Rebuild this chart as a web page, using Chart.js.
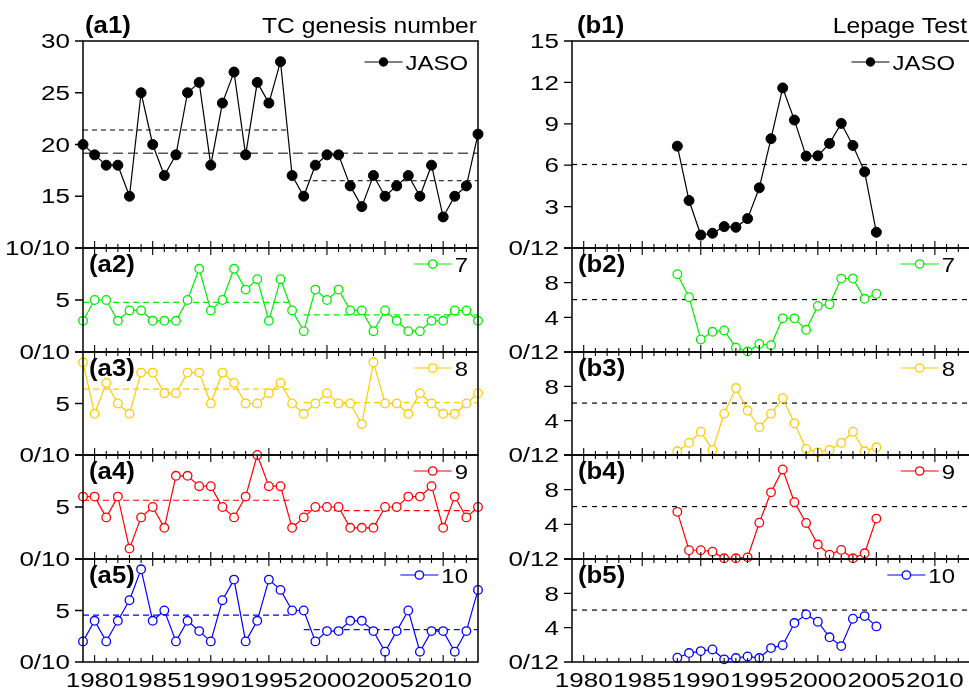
<!DOCTYPE html>
<html>
<head>
<meta charset="utf-8">
<script src="https://cdn.jsdelivr.net/npm/chart.js@4.4.0/dist/chart.umd.min.js"></script>
<style>
  html, body { margin: 0; padding: 0; background: #fff; overflow: hidden; width: 969px; height: 691px; }
  #wrap { position: relative; width: 969px; height: 691px; overflow: hidden; }
  #wrap canvas { position: absolute; }
</style>
</head>
<body>
<div id="wrap"></div>
<script>
// ============ data ============
const tcYears = [1979, 1980, 1981, 1982, 1983, 1984, 1985, 1986, 1987, 1988, 1989, 1990, 1991, 1992, 1993, 1994, 1995, 1996,
                 1997, 1998, 1999, 2000, 2001, 2002, 2003, 2004, 2005, 2006, 2007, 2008, 2009, 2010, 2011, 2012, 2013];
const tcJASO = [20, 19, 18, 18, 15, 25, 20, 17, 19, 25, 26, 18, 24, 27, 19, 26, 24, 28, 17, 15, 18, 19, 19, 16, 14, 17, 15, 16, 17, 15, 18, 13, 15, 16, 21];
const tcJul  = [3, 5, 5, 3, 4, 4, 3, 3, 3, 5, 8, 4, 5, 8, 6, 7, 3, 7, 4, 2, 6, 5, 6, 4, 4, 2, 4, 3, 2, 2, 3, 3, 4, 4, 3];
const tcAug  = [9, 4, 7, 5, 4, 8, 8, 6, 6, 8, 8, 5, 8, 7, 5, 5, 6, 7, 5, 4, 5, 6, 5, 5, 3, 9, 5, 5, 4, 6, 5, 4, 4, 5, 6];
const tcSep  = [6, 6, 4, 6, 1, 4, 5, 3, 8, 8, 7, 7, 5, 4, 6, 10, 7, 7, 3, 4, 5, 5, 5, 3, 3, 3, 5, 5, 6, 6, 7, 3, 6, 4, 5];
const tcOct  = [2, 4, 2, 4, 6, 9, 4, 5, 2, 4, 3, 2, 6, 8, 2, 4, 8, 7, 5, 5, 2, 3, 3, 4, 4, 3, 1, 3, 5, 1, 3, 3, 1, 3, 7];

// means: whole period (a1 only), before / after the shift
const tcMeanAll = 19.15;
const tcMeanEarly = [21.4, 4.78, 6.4, 5.65, 4.55];
const tcMeanLate  = [16.5, 3.57, 5.08, 4.65, 3.15];
const earlySpan = [1979, 1996.8];
const lateSpan  = [1998, 2013];

const lpYears = [1988, 1989, 1990, 1991, 1992, 1993, 1994, 1995, 1996, 1997, 1998, 1999, 2000, 2001, 2002, 2003, 2004, 2005];
const lpJASO = [7.38, 3.44, 0.94, 1.07, 1.55, 1.50, 2.13, 4.36, 7.92, 11.6, 9.27, 6.66, 6.68, 7.58, 9.03, 7.43, 5.52, 1.14];
const lpJul  = [8.97, 6.33, 1.44, 2.33, 2.49, 0.50, 0.05, 0.93, 0.78, 3.88, 3.88, 2.56, 5.32, 5.51, 8.47, 8.47, 6.14, 6.72];
const lpAug  = [0.43, 1.41, 2.71, 0.59, 4.82, 7.80, 5.18, 3.22, 4.82, 6.63, 3.69, 0.71, 0.31, 0.59, 1.41, 2.71, 0.43, 0.90];
const lpSep  = [5.44, 1.01, 1.01, 0.85, 0.08, 0.08, 0.19, 4.19, 7.69, 10.33, 6.56, 4.16, 1.67, 0.50, 1.05, 0.08, 0.66, 4.66];
const lpOct  = [0.50, 1.04, 1.27, 1.46, 0.31, 0.46, 0.65, 0.46, 1.62, 1.96, 4.54, 5.54, 4.69, 2.88, 1.85, 5.04, 5.35, 4.15];
const lpCrit = 6.05;

const monthNames = ['JASO', '7', '8', '9', '10'];
const monthColors = ['#000000', '#00ee00', '#ffcc00', '#ff0000', '#0000ff'];
const xLabelYears = [1980, 1985, 1990, 1995, 2000, 2005, 2010];

// ============ layout ============
const FONT = '"Liberation Sans", Arial, Helvetica, sans-serif';
const rowTops = [41, 248, 352, 455, 559];
const rowBottom = 662;
const cols = [
    { left: 0,   padL: 83, plotW: 395, padR: 6,  legOff: 10, titleOff: 1 },
    { left: 489, padL: 83, plotW: 398, padR: 10, legOff: 15, titleOff: 3 },
];

// 横に引き伸ばした文字 (元図のフォントが横長のため)
function drawText(ctx, txt, x, y, size, o) {
    ctx.save();
    ctx.font = (o.bold ? 'bold ' : '') + size + 'px ' + FONT;
    ctx.fillStyle = '#000';
    ctx.textBaseline = 'alphabetic';
    ctx.textAlign = 'left';
    const sx = o.sx || 1;
    const w = ctx.measureText(txt).width * sx;
    let left = x;
    if (o.align === 'right') left = x - w;
    else if (o.align === 'center') left = x - w / 2;
    ctx.translate(left, y);
    ctx.scale(sx, 1);
    ctx.fillText(txt, 0, 0);
    ctx.restore();
    return { left, width: w };
}

const panelDeco = {
    id: 'panelDeco',
    afterDatasetsDraw(chart, args, o) {
        const { ctx, chartArea: a, scales: { x, y } } = chart;
        ctx.save();
        ctx.strokeStyle = '#000';

        // frame
        ctx.lineWidth = 1.5;
        ctx.strokeRect(a.left, a.top, a.right - a.left, a.bottom - a.top);

        // yearly ticks, pointing inward
        ctx.lineWidth = 1.1;
        ctx.beginPath();
        for (let yr = 1980; yr <= 2012; yr++) {
            const px = x.getPixelForValue(yr);
            const len = yr % 5 === 0 ? 7 : 4;
            ctx.moveTo(px, a.bottom); ctx.lineTo(px, a.bottom - len);
            if (o.topTicks) { ctx.moveTo(px, a.top); ctx.lineTo(px, a.top + len); }
        }
        ctx.stroke();

        // y ticks, pointing outward
        ctx.lineWidth = 1.3;
        ctx.beginPath();
        o.yTicks.forEach(v => {
            const py = y.getPixelForValue(v);
            ctx.moveTo(a.left - 8, py); ctx.lineTo(a.left, py);
        });
        ctx.stroke();

        o.yTicks.forEach((v, i) => {
            const lab = o.yLabels[i];
            if (!lab) return;
            const py = y.getPixelForValue(v);
            drawText(ctx, lab, a.left - 13, py + 7.2, 20, { align: 'right', sx: 1.3 });
        });

        if (o.xLabels) {
            xLabelYears.forEach(yr => {
                drawText(ctx, String(yr), x.getPixelForValue(yr), a.bottom + 25, 20, { align: 'center', sx: 1.3 });
            });
        }

        // panel tag
        if (o.tagInside) drawText(ctx, o.tag, a.left + 6, a.top + 24, 23, { bold: true, sx: 1.12 });
        else drawText(ctx, o.tag, a.left + o.tagX, a.top - 8, 23, { bold: true, sx: 1.12 });

        if (o.title) drawText(ctx, o.title, a.right - o.titleOff, a.top - 8, 22, { align: 'right', sx: 1.12 });

        // legend
        const cy = a.top + o.legY;
        const t = drawText(ctx, o.legText, a.right - o.legOff, cy + 7.6, 21, { align: 'right', sx: 1.14 });
        const x1 = t.left - 3, x0 = x1 - 38, mx = (x0 + x1) / 2;
        ctx.strokeStyle = o.color; ctx.lineWidth = 1.2;
        ctx.beginPath(); ctx.moveTo(x0, cy); ctx.lineTo(x1, cy); ctx.stroke();
        ctx.beginPath(); ctx.arc(mx, cy, o.filled ? 4 : 4.2, 0, Math.PI * 2);
        ctx.fillStyle = o.filled ? o.color : '#fff';
        ctx.fill(); ctx.lineWidth = 1.3; ctx.stroke();

        ctx.restore();
    }
};

function seg(span, v) {
    return [{ x: span[0], y: v }, { x: span[1], y: v }];
}

function makePanel(p) {
    const col = cols[p.col];
    const top = rowTops[p.row];
    const bottom = p.row < 4 ? rowTops[p.row + 1] : rowBottom;
    const padT = p.row === 0 ? top : 14;
    const padB = p.row === 4 ? 691 - rowBottom : 14;

    const canvas = document.createElement('canvas');
    canvas.width = col.padL + col.plotW + col.padR;
    canvas.height = padT + (bottom - top) + padB;
    canvas.style.left = col.left + 'px';
    canvas.style.top = (top - padT) + 'px';
    document.getElementById('wrap').appendChild(canvas);

    const filled = p.row === 0;
    const datasets = [{
        data: p.years.map((yr, i) => ({ x: yr, y: p.values[i] })),
        borderColor: p.color,
        borderWidth: 1.2,
        pointRadius: filled ? 5 : 4.3,
        pointBackgroundColor: filled ? p.color : '#fff',
        pointBorderColor: p.color,
        pointBorderWidth: filled ? 1 : 1.3,
        clip: false,
    }];
    p.refLines.forEach(r => datasets.push({
        data: r.data,
        borderColor: r.color,
        borderWidth: r.width || 1.2,
        borderDash: r.dash,
        pointRadius: 0,
        clip: false,
    }));

    new Chart(canvas, {
        type: 'line',
        data: { datasets },
        options: {
            responsive: false,
            animation: false,
            devicePixelRatio: 1,
            layout: { padding: { left: col.padL, right: col.padR, top: padT, bottom: padB } },
            elements: { line: { tension: 0 } },
            scales: {
                x: { type: 'linear', min: 1979, max: 2013, display: false },
                y: { type: 'linear', min: p.yMin, max: p.yMax, display: false },
            },
            plugins: {
                legend: { display: false },
                tooltip: { enabled: false },
                panelDeco: {
                    yTicks: p.yTicks, yLabels: p.yLabels,
                    xLabels: p.row === 4,
                    topTicks: p.row !== 0,
                    tag: p.tag, tagInside: p.row !== 0, tagX: p.col === 0 ? 2 : 5,
                    title: p.title, titleOff: col.titleOff,
                    legText: p.legText, legY: p.row === 0 ? 21 : 16, legOff: col.legOff,
                    color: p.color, filled,
                },
            },
        },
        plugins: [panelDeco],
    });
}

// ============ left column: TC genesis number ============
const tcSeries = [tcJASO, tcJul, tcAug, tcSep, tcOct];
tcSeries.forEach((vals, i) => {
    const refs = [];
    if (i === 0) refs.push({ data: seg([1979, 2013], tcMeanAll), color: '#555555', dash: [10, 5], width: 1.5 });
    const c = i === 0 ? '#000000' : monthColors[i];
    refs.push({ data: seg(earlySpan, tcMeanEarly[i]), color: c, dash: i === 0 ? [5, 4] : [6, 4], width: i === 0 ? 1 : 1.2 });
    refs.push({ data: seg(lateSpan, tcMeanLate[i]), color: c, dash: i === 0 ? [5, 4] : [6, 4], width: i === 0 ? 1 : 1.2 });
    makePanel({
        col: 0, row: i, years: tcYears, values: vals, color: monthColors[i],
        yMin: i === 0 ? 10 : 0, yMax: i === 0 ? 30 : 10,
        yTicks: i === 0 ? [10, 15, 20, 25, 30] : [0, 5, 10],
        yLabels: i === 0 ? ['10/10', '15', '20', '25', '30'] : ['0/10', '5', ''],
        tag: '(a' + (i + 1) + ')', title: i === 0 ? 'TC genesis number' : null,
        legText: monthNames[i], refLines: refs,
    });
});

// ============ right column: Lepage test ============
const lpSeries = [lpJASO, lpJul, lpAug, lpSep, lpOct];
lpSeries.forEach((vals, i) => {
    makePanel({
        col: 1, row: i, years: lpYears, values: vals, color: monthColors[i],
        yMin: 0, yMax: i === 0 ? 15 : 12,
        yTicks: i === 0 ? [0, 3, 6, 9, 12, 15] : [0, 4, 8, 12],
        yLabels: i === 0 ? ['0/12', '3', '6', '9', '12', '15'] : ['0/12', '4', '8', ''],
        tag: '(b' + (i + 1) + ')', title: i === 0 ? 'Lepage Test' : null,
        legText: monthNames[i],
        refLines: [{ data: seg([1979, 2013], lpCrit), color: '#000000', dash: [5, 5], width: 1.2 }],
    });
});
</script>
</body>
</html>
